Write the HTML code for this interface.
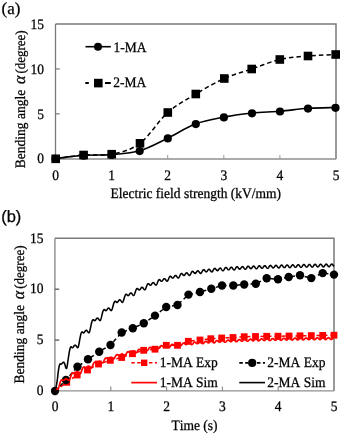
<!DOCTYPE html>
<html><head><meta charset="utf-8"><style>
html,body{margin:0;padding:0;background:#fff;}
svg{display:block;will-change:transform;}
text{font-family:"Liberation Serif",serif;fill:#000;text-rendering:geometricPrecision;stroke:#000;stroke-width:0.25px;font-kerning:none;font-variant-ligatures:none;}
</style></head><body>
<svg width="342" height="434" viewBox="0 0 342 434">
<rect width="342" height="434" fill="#fff"/>
<path d="M55.5,24 H336 V159" fill="none" stroke="#7a7a7a" stroke-width="1.5"/>
<path d="M55.5,159 H336" fill="none" stroke="#8f8f8f" stroke-width="1.4"/>
<path d="M55.5,159 V24" stroke="#7a7a7a" stroke-width="1.3"/>
<path d="M55.5,113.87 h4.2" stroke="#777" stroke-width="1.2"/>
<path d="M55.5,68.93 h4.2" stroke="#777" stroke-width="1.2"/>
<path d="M111.6,159 v-4" stroke="#999" stroke-width="1"/>
<path d="M167.7,159 v-4" stroke="#999" stroke-width="1"/>
<path d="M223.8,159 v-4" stroke="#999" stroke-width="1"/>
<path d="M279.9,159 v-4" stroke="#999" stroke-width="1"/>
<path d="M55.7,158.8 C60.35,158.17 74.27,155.77 83.6,155 C92.93,154.23 102.3,156.15 111.7,154.2 C121.1,152.25 130.65,150.25 140,143.3 C149.35,136.35 158.5,120.72 167.8,112.5 C177.1,104.28 186.38,99.67 195.8,94 C205.22,88.33 214.98,82.67 224.3,78.5 C233.62,74.33 242.45,72.17 251.7,69 C260.95,65.83 270.42,61.67 279.8,59.5 C289.18,57.33 298.68,56.83 308,56 C317.32,55.17 331.08,54.75 335.7,54.5" fill="none" stroke="#000" stroke-width="1.5" stroke-dasharray="4.5,3"/>
<path d="M55.5,158.6 C60.18,158.07 74.23,156.07 83.6,155.4 C92.97,154.73 102.35,155.37 111.7,154.6 C121.05,153.83 130.35,153.55 139.7,150.8 C149.05,148.05 158.45,142.6 167.8,138.1 C177.15,133.6 186.45,127.3 195.8,123.8 C205.15,120.3 214.53,118.9 223.9,117.1 C233.27,115.3 242.65,113.98 252,113 C261.35,112.02 270.67,111.98 280,111.2 C289.33,110.42 298.75,108.92 308,108.3 C317.25,107.68 330.92,107.63 335.5,107.5" fill="none" stroke="#000" stroke-width="1.6"/>
<circle cx="55.5" cy="158.9" r="4.1"/>
<circle cx="83.6" cy="155.7" r="4.1"/>
<circle cx="111.7" cy="154.9" r="4.1"/>
<circle cx="139.7" cy="151.1" r="4.1"/>
<circle cx="167.8" cy="138.4" r="4.1"/>
<circle cx="195.8" cy="124.1" r="4.1"/>
<circle cx="223.9" cy="117.4" r="4.1"/>
<circle cx="252" cy="113.3" r="4.1"/>
<circle cx="280" cy="111.5" r="4.1"/>
<circle cx="308" cy="108.6" r="4.1"/>
<circle cx="335.5" cy="107.8" r="4.1"/>
<rect x="51.4" y="154.5" width="8.6" height="8.6"/>
<rect x="79.3" y="150.7" width="8.6" height="8.6"/>
<rect x="107.4" y="149.9" width="8.6" height="8.6"/>
<rect x="135.7" y="139" width="8.6" height="8.6"/>
<rect x="163.5" y="108.2" width="8.6" height="8.6"/>
<rect x="191.5" y="89.7" width="8.6" height="8.6"/>
<rect x="220" y="74.2" width="8.6" height="8.6"/>
<rect x="247.4" y="64.7" width="8.6" height="8.6"/>
<rect x="275.5" y="55.2" width="8.6" height="8.6"/>
<rect x="303.7" y="51.7" width="8.6" height="8.6"/>
<rect x="331.4" y="50.2" width="8.6" height="8.6"/>
<path d="M85.5,46.7 H110.8" stroke="#000" stroke-width="1.6"/>
<circle cx="98" cy="46.7" r="4.0"/>
<path d="M85.3,83 H88.8 M105,83 H110.8" stroke="#000" stroke-width="1.9"/>
<rect x="94" y="78.8" width="8.6" height="8.6"/>
<path d="M54.9,238.2 H334 V390.9" fill="none" stroke="#7a7a7a" stroke-width="1.5"/>
<path d="M54.9,390.9 H334" fill="none" stroke="#8f8f8f" stroke-width="1.4"/>
<path d="M54.9,390.9 V238.2" stroke="#8a8a8a" stroke-width="1.4"/>
<path d="M55.0,340.1 h4.2" stroke="#555" stroke-width="1.3"/>
<path d="M55.0,289.2 h4.2" stroke="#555" stroke-width="1.3"/>
<path d="M110.8,391.0 v-4.5" stroke="#888" stroke-width="1.1"/>
<path d="M166.6,391.0 v-4.5" stroke="#888" stroke-width="1.1"/>
<path d="M222.4,391.0 v-4.5" stroke="#888" stroke-width="1.1"/>
<path d="M278.2,391.0 v-4.5" stroke="#888" stroke-width="1.1"/>
<path d="M55,391 L66.7,382.3 L77.2,375 L87.5,370 L98.5,364 L110.3,360.3 L121.7,357.5 L132.5,353.7 L143.7,350.3 L155,349.2 L166.3,345.3 L177.5,345.3 L188.3,341.3 L200,340 L210.8,338.7 L221.7,338 L233,337.5 L244.2,336.7 L255.5,336.5 L266.7,336.3 L278,336.2 L289,336 L300,335.8 L311.3,335.6 L322.7,335.4 L334,335.2" fill="none" stroke="#f00" stroke-width="1.5" stroke-dasharray="4,3"/>
<rect x="63.3" y="378.9" width="6.8" height="6.8" fill="#f00"/>
<rect x="73.8" y="371.6" width="6.8" height="6.8" fill="#f00"/>
<rect x="84.1" y="366.6" width="6.8" height="6.8" fill="#f00"/>
<rect x="95.1" y="360.6" width="6.8" height="6.8" fill="#f00"/>
<rect x="106.9" y="356.9" width="6.8" height="6.8" fill="#f00"/>
<rect x="118.3" y="354.1" width="6.8" height="6.8" fill="#f00"/>
<rect x="129.1" y="350.3" width="6.8" height="6.8" fill="#f00"/>
<rect x="140.3" y="346.9" width="6.8" height="6.8" fill="#f00"/>
<rect x="151.6" y="345.8" width="6.8" height="6.8" fill="#f00"/>
<rect x="162.9" y="341.9" width="6.8" height="6.8" fill="#f00"/>
<rect x="174.1" y="341.9" width="6.8" height="6.8" fill="#f00"/>
<rect x="184.9" y="337.9" width="6.8" height="6.8" fill="#f00"/>
<rect x="196.6" y="336.6" width="6.8" height="6.8" fill="#f00"/>
<rect x="207.4" y="335.3" width="6.8" height="6.8" fill="#f00"/>
<rect x="218.3" y="334.6" width="6.8" height="6.8" fill="#f00"/>
<rect x="229.6" y="334.1" width="6.8" height="6.8" fill="#f00"/>
<rect x="240.8" y="333.3" width="6.8" height="6.8" fill="#f00"/>
<rect x="252.1" y="333.1" width="6.8" height="6.8" fill="#f00"/>
<rect x="263.3" y="332.9" width="6.8" height="6.8" fill="#f00"/>
<rect x="274.6" y="332.8" width="6.8" height="6.8" fill="#f00"/>
<rect x="285.6" y="332.6" width="6.8" height="6.8" fill="#f00"/>
<rect x="296.6" y="332.4" width="6.8" height="6.8" fill="#f00"/>
<rect x="307.9" y="332.2" width="6.8" height="6.8" fill="#f00"/>
<rect x="319.3" y="332" width="6.8" height="6.8" fill="#f00"/>
<rect x="330.6" y="331.8" width="6.8" height="6.8" fill="#f00"/>
<path d="M55,391 L66,380 L77.5,366.7 L88,359.2 L99.2,351.7 L110.5,345 L121.7,332.5 L132.8,328.3 L143.8,323.3 L155,315.6 L166.2,307 L177.5,305 L188.5,294.6 L200,292 L211.3,288.7 L222,285.5 L233.3,285.5 L244.2,284.5 L255.8,283.7 L266.7,278.3 L278,279.2 L288.7,277 L300,275.3 L311.3,278.1 L322.7,273.1 L334,274.6" fill="none" stroke="#000" stroke-width="1.5" stroke-dasharray="4,3"/>
<circle cx="55" cy="391" r="4.2"/>
<circle cx="66" cy="380" r="4.2"/>
<circle cx="77.5" cy="366.7" r="4.2"/>
<circle cx="88" cy="359.2" r="4.2"/>
<circle cx="99.2" cy="351.7" r="4.2"/>
<circle cx="110.5" cy="345" r="4.2"/>
<circle cx="121.7" cy="332.5" r="4.2"/>
<circle cx="132.8" cy="328.3" r="4.2"/>
<circle cx="143.8" cy="323.3" r="4.2"/>
<circle cx="155" cy="315.6" r="4.2"/>
<circle cx="166.2" cy="307" r="4.2"/>
<circle cx="177.5" cy="305" r="4.2"/>
<circle cx="188.5" cy="294.6" r="4.2"/>
<circle cx="200" cy="292" r="4.2"/>
<circle cx="211.3" cy="288.7" r="4.2"/>
<circle cx="222" cy="285.5" r="4.2"/>
<circle cx="233.3" cy="285.5" r="4.2"/>
<circle cx="244.2" cy="284.5" r="4.2"/>
<circle cx="255.8" cy="283.7" r="4.2"/>
<circle cx="266.7" cy="278.3" r="4.2"/>
<circle cx="278" cy="279.2" r="4.2"/>
<circle cx="288.7" cy="277" r="4.2"/>
<circle cx="300" cy="275.3" r="4.2"/>
<circle cx="311.3" cy="278.1" r="4.2"/>
<circle cx="322.7" cy="273.1" r="4.2"/>
<circle cx="334" cy="274.6" r="4.2"/>
<path d="M55,391 L55.28,390.21 L55.56,389.57 L55.84,389.1 L56.12,388.79 L56.4,388.64 L56.67,388.64 L56.95,388.75 L57.23,388.94 L57.51,389.17 L57.79,389.41 L58.07,388.98 L58.35,388.4 L58.63,387.66 L58.91,386.81 L59.19,385.87 L59.46,384.9 L59.74,383.92 L60.02,382.99 L60.3,382.15 L60.58,381.42 L60.86,380.82 L61.14,380.37 L61.42,380.06 L61.7,379.89 L61.98,379.83 L62.25,379.87 L62.53,380.13 L62.81,380.34 L63.09,380.47 L63.37,380.52 L63.65,380.48 L63.93,380.35 L64.21,380.15 L64.49,379.89 L64.77,379.61 L65.04,379.33 L65.32,379.07 L65.6,378.87 L65.88,378.74 L66.16,378.69 L66.44,378.73 L66.72,378.86 L67,379.06 L67.28,379.31 L67.56,379.59 L67.83,379.86 L68.11,380.11 L68.39,380.31 L68.67,380.43 L68.95,380.46 L69.23,380.19 L69.51,379.75 L69.79,379.17 L70.07,378.46 L70.34,377.68 L70.62,376.86 L70.9,376.03 L71.18,375.25 L71.46,374.55 L71.74,373.95 L72.02,373.48 L72.3,373.13 L72.58,372.92 L72.86,372.83 L73.13,372.84 L73.41,372.93 L73.69,373.19 L73.97,373.4 L74.25,373.54 L74.53,373.59 L74.81,373.55 L75.09,373.43 L75.37,373.23 L75.65,372.98 L75.92,372.7 L76.2,372.41 L76.48,372.16 L76.76,371.96 L77.04,371.83 L77.32,371.78 L77.6,371.82 L77.88,371.95 L78.16,372.15 L78.44,372.4 L78.72,372.68 L78.99,372.96 L79.27,373.21 L79.55,373.41 L79.83,373.53 L80.11,373.57 L80.39,373.33 L80.67,372.94 L80.95,372.42 L81.23,371.79 L81.5,371.09 L81.78,370.36 L82.06,369.63 L82.34,368.95 L82.62,368.34 L82.9,367.83 L83.18,367.44 L83.46,367.18 L83.74,367.04 L84.02,367 L84.3,367.06 L84.57,367.18 L84.85,367.44 L85.13,367.65 L85.41,367.79 L85.69,367.84 L85.97,367.8 L86.25,367.67 L86.53,367.47 L86.81,367.22 L87.08,366.94 L87.36,366.66 L87.64,366.4 L87.92,366.2 L88.2,366.07 L88.48,366.02 L88.76,366.07 L89.04,366.19 L89.32,366.39 L89.6,366.65 L89.88,366.93 L90.15,367.21 L90.43,367.46 L90.71,367.65 L90.99,367.78 L91.27,367.82 L91.55,367.61 L91.83,367.27 L92.11,366.8 L92.39,366.23 L92.67,365.6 L92.94,364.94 L93.22,364.29 L93.5,363.69 L93.78,363.16 L94.06,362.73 L94.34,362.41 L94.62,362.22 L94.9,362.13 L95.18,362.15 L95.45,362.24 L95.73,362.39 L96.01,362.65 L96.29,362.86 L96.57,362.99 L96.85,363.04 L97.13,363 L97.41,362.87 L97.69,362.67 L97.97,362.42 L98.25,362.14 L98.52,361.86 L98.8,361.6 L99.08,361.4 L99.36,361.27 L99.64,361.22 L99.92,361.27 L100.2,361.4 L100.48,361.6 L100.76,361.85 L101.03,362.13 L101.31,362.41 L101.59,362.66 L101.87,362.86 L102.15,362.98 L102.43,363.02 L102.71,362.84 L102.99,362.54 L103.27,362.11 L103.55,361.6 L103.83,361.03 L104.1,360.43 L104.38,359.84 L104.66,359.31 L104.94,358.84 L105.22,358.48 L105.5,358.22 L105.78,358.08 L106.06,358.04 L106.34,358.1 L106.61,358.22 L106.89,358.39 L107.17,358.65 L107.45,358.86 L107.73,358.99 L108.01,359.04 L108.29,359 L108.57,358.87 L108.85,358.67 L109.13,358.42 L109.41,358.14 L109.68,357.85 L109.96,357.6 L110.24,357.4 L110.52,357.27 L110.8,357.22 L111.08,357.26 L111.36,357.39 L111.64,357.59 L111.92,357.85 L112.19,358.13 L112.47,358.41 L112.75,358.66 L113.03,358.86 L113.31,358.98 L113.59,359.02 L113.87,358.87 L114.15,358.59 L114.43,358.2 L114.71,357.73 L114.98,357.21 L115.26,356.66 L115.54,356.13 L115.82,355.65 L116.1,355.24 L116.38,354.93 L116.66,354.73 L116.94,354.63 L117.22,354.63 L117.5,354.72 L117.78,354.87 L118.05,355.06 L118.33,355.32 L118.61,355.52 L118.89,355.66 L119.17,355.71 L119.45,355.66 L119.73,355.54 L120.01,355.33 L120.29,355.08 L120.56,354.8 L120.84,354.52 L121.12,354.26 L121.4,354.06 L121.68,353.93 L121.96,353.88 L122.24,353.93 L122.52,354.06 L122.8,354.26 L123.08,354.51 L123.36,354.79 L123.63,355.07 L123.91,355.33 L124.19,355.52 L124.47,355.65 L124.75,355.69 L125.03,355.56 L125.31,355.3 L125.59,354.94 L125.87,354.51 L126.14,354.03 L126.42,353.52 L126.7,353.04 L126.98,352.6 L127.26,352.24 L127.54,351.98 L127.82,351.81 L128.1,351.75 L128.38,351.79 L128.66,351.9 L128.94,352.08 L129.21,352.28 L129.49,352.54 L129.77,352.74 L130.05,352.88 L130.33,352.92 L130.61,352.88 L130.89,352.75 L131.17,352.55 L131.45,352.3 L131.72,352.02 L132,351.73 L132.28,351.48 L132.56,351.28 L132.84,351.15 L133.12,351.1 L133.4,351.15 L133.68,351.27 L133.96,351.48 L134.24,351.73 L134.51,352.01 L134.79,352.29 L135.07,352.55 L135.35,352.75 L135.63,352.87 L135.91,352.91 L136.19,352.79 L136.47,352.56 L136.75,352.23 L137.03,351.82 L137.31,351.37 L137.58,350.91 L137.86,350.46 L138.14,350.06 L138.42,349.74 L138.7,349.51 L138.98,349.38 L139.26,349.35 L139.54,349.42 L139.82,349.55 L140.09,349.75 L140.37,349.96 L140.65,350.22 L140.93,350.43 L141.21,350.56 L141.49,350.61 L141.77,350.56 L142.05,350.44 L142.33,350.23 L142.61,349.98 L142.88,349.7 L143.16,349.41 L143.44,349.16 L143.72,348.96 L144,348.83 L144.28,348.78 L144.56,348.83 L144.84,348.96 L145.12,349.16 L145.4,349.41 L145.68,349.69 L145.95,349.97 L146.23,350.23 L146.51,350.43 L146.79,350.56 L147.07,350.6 L147.35,350.49 L147.63,350.27 L147.91,349.96 L148.19,349.58 L148.47,349.16 L148.74,348.72 L149.02,348.31 L149.3,347.95 L149.58,347.66 L149.86,347.46 L150.14,347.35 L150.42,347.35 L150.7,347.44 L150.98,347.6 L151.25,347.8 L151.53,348.03 L151.81,348.29 L152.09,348.49 L152.37,348.63 L152.65,348.67 L152.93,348.63 L153.21,348.5 L153.49,348.3 L153.77,348.05 L154.04,347.76 L154.32,347.48 L154.6,347.23 L154.88,347.02 L155.16,346.89 L155.44,346.85 L155.72,346.89 L156,347.02 L156.28,347.22 L156.56,347.48 L156.84,347.76 L157.11,348.04 L157.39,348.29 L157.67,348.5 L157.95,348.62 L158.23,348.67 L158.51,348.57 L158.79,348.37 L159.07,348.07 L159.35,347.71 L159.62,347.31 L159.9,346.91 L160.18,346.52 L160.46,346.18 L160.74,345.92 L161.02,345.74 L161.3,345.67 L161.58,345.68 L161.86,345.79 L162.14,345.97 L162.42,346.18 L162.69,346.42 L162.97,346.68 L163.25,346.88 L163.53,347.02 L163.81,347.06 L164.09,347.02 L164.37,346.89 L164.65,346.69 L164.93,346.43 L165.2,346.15 L165.48,345.87 L165.76,345.61 L166.04,345.41 L166.32,345.28 L166.6,345.23 L166.88,345.28 L167.16,345.41 L167.44,345.61 L167.72,345.87 L168,346.15 L168.27,346.43 L168.55,346.68 L168.83,346.88 L169.11,347.01 L169.39,347.06 L169.67,346.97 L169.95,346.78 L170.23,346.5 L170.51,346.16 L170.79,345.78 L171.06,345.39 L171.34,345.02 L171.62,344.71 L171.9,344.47 L172.18,344.31 L172.46,344.26 L172.74,344.29 L173.02,344.42 L173.3,344.6 L173.57,344.83 L173.85,345.08 L174.13,345.34 L174.41,345.54 L174.69,345.67 L174.97,345.72 L175.25,345.67 L175.53,345.55 L175.81,345.34 L176.09,345.09 L176.36,344.81 L176.64,344.52 L176.92,344.27 L177.2,344.07 L177.48,343.94 L177.76,343.89 L178.04,343.93 L178.32,344.06 L178.6,344.27 L178.88,344.52 L179.16,344.8 L179.43,345.09 L179.71,345.34 L179.99,345.54 L180.27,345.67 L180.55,345.71 L180.83,345.63 L181.11,345.45 L181.39,345.19 L181.67,344.86 L181.94,344.49 L182.22,344.12 L182.5,343.78 L182.78,343.48 L183.06,343.26 L183.34,343.12 L183.62,343.08 L183.9,343.14 L184.18,343.27 L184.46,343.47 L184.74,343.71 L185.01,343.96 L185.29,344.22 L185.57,344.42 L185.85,344.55 L186.13,344.6 L186.41,344.55 L186.69,344.43 L186.97,344.22 L187.25,343.97 L187.53,343.69 L187.8,343.4 L188.08,343.15 L188.36,342.94 L188.64,342.81 L188.92,342.77 L189.2,342.81 L189.48,342.94 L189.76,343.15 L190.04,343.4 L190.31,343.68 L190.59,343.97 L190.87,344.22 L191.15,344.42 L191.43,344.55 L191.71,344.59 L191.99,344.52 L192.27,344.35 L192.55,344.09 L192.83,343.78 L193.1,343.43 L193.38,343.07 L193.66,342.74 L193.94,342.46 L194.22,342.25 L194.5,342.13 L194.78,342.1 L195.06,342.17 L195.34,342.32 L195.62,342.52 L195.9,342.77 L196.17,343.03 L196.45,343.28 L196.73,343.49 L197.01,343.62 L197.29,343.66 L197.57,343.62 L197.85,343.49 L198.13,343.29 L198.41,343.03 L198.69,342.75 L198.96,342.47 L199.24,342.21 L199.52,342.01 L199.8,341.88 L200.08,341.83 L200.36,341.88 L200.64,342.01 L200.92,342.21 L201.2,342.47 L201.47,342.75 L201.75,343.03 L202.03,343.29 L202.31,343.49 L202.59,343.62 L202.87,343.66 L203.15,343.59 L203.43,343.43 L203.71,343.18 L203.99,342.87 L204.26,342.53 L204.54,342.19 L204.82,341.87 L205.1,341.6 L205.38,341.41 L205.66,341.3 L205.94,341.29 L206.22,341.36 L206.5,341.52 L206.78,341.74 L207.06,341.99 L207.33,342.25 L207.61,342.51 L207.89,342.71 L208.17,342.84 L208.45,342.89 L208.73,342.84 L209.01,342.71 L209.29,342.51 L209.57,342.25 L209.84,341.97 L210.12,341.69 L210.4,341.43 L210.68,341.23 L210.96,341.1 L211.24,341.06 L211.52,341.1 L211.8,341.23 L212.08,341.43 L212.36,341.69 L212.64,341.97 L212.91,342.25 L213.19,342.51 L213.47,342.71 L213.75,342.84 L214.03,342.88 L214.31,342.82 L214.59,342.66 L214.87,342.42 L215.15,342.12 L215.43,341.79 L215.7,341.46 L215.98,341.15 L216.26,340.89 L216.54,340.71 L216.82,340.61 L217.1,340.61 L217.38,340.69 L217.66,340.86 L217.94,341.08 L218.21,341.34 L218.49,341.6 L218.77,341.86 L219.05,342.06 L219.33,342.19 L219.61,342.24 L219.89,342.19 L220.17,342.06 L220.45,341.86 L220.73,341.6 L221,341.32 L221.28,341.04 L221.56,340.78 L221.84,340.58 L222.12,340.45 L222.4,340.41 L222.68,340.45 L222.96,340.58 L223.24,340.78 L223.52,341.04 L223.8,341.32 L224.07,341.6 L224.35,341.86 L224.63,342.06 L224.91,342.19 L225.19,342.23 L225.47,342.17 L225.75,342.02 L226.03,341.78 L226.31,341.49 L226.59,341.17 L226.86,340.85 L227.14,340.55 L227.42,340.3 L227.7,340.12 L227.98,340.03 L228.26,340.04 L228.54,340.13 L228.82,340.3 L229.1,340.53 L229.38,340.79 L229.65,341.06 L229.93,341.32 L230.21,341.52 L230.49,341.65 L230.77,341.7 L231.05,341.65 L231.33,341.52 L231.61,341.32 L231.89,341.06 L232.16,340.78 L232.44,340.5 L232.72,340.24 L233,340.04 L233.28,339.91 L233.56,339.86 L233.84,339.91 L234.12,340.04 L234.4,340.24 L234.68,340.5 L234.95,340.78 L235.23,341.06 L235.51,341.32 L235.79,341.52 L236.07,341.65 L236.35,341.69 L236.63,341.63 L236.91,341.48 L237.19,341.26 L237.47,340.97 L237.75,340.65 L238.02,340.34 L238.3,340.04 L238.58,339.8 L238.86,339.64 L239.14,339.55 L239.42,339.57 L239.7,339.66 L239.98,339.84 L240.26,340.07 L240.54,340.34 L240.81,340.61 L241.09,340.86 L241.37,341.07 L241.65,341.2 L241.93,341.24 L242.21,341.2 L242.49,341.07 L242.77,340.87 L243.05,340.61 L243.32,340.33 L243.6,340.05 L243.88,339.79 L244.16,339.59 L244.44,339.46 L244.72,339.41 L245,339.46 L245.28,339.59 L245.56,339.79 L245.84,340.05 L246.11,340.33 L246.39,340.61 L246.67,340.87 L246.95,341.07 L247.23,341.2 L247.51,341.24 L247.79,341.18 L248.07,341.04 L248.35,340.81 L248.63,340.53 L248.91,340.22 L249.18,339.91 L249.46,339.63 L249.74,339.39 L250.02,339.23 L250.3,339.15 L250.58,339.17 L250.86,339.28 L251.14,339.46 L251.42,339.69 L251.69,339.96 L251.97,340.23 L252.25,340.49 L252.53,340.69 L252.81,340.82 L253.09,340.87 L253.37,340.82 L253.65,340.69 L253.93,340.49 L254.21,340.24 L254.49,339.95 L254.76,339.67 L255.04,339.41 L255.32,339.21 L255.6,339.08 L255.88,339.04 L256.16,339.08 L256.44,339.21 L256.72,339.41 L257,339.67 L257.27,339.95 L257.55,340.23 L257.83,340.49 L258.11,340.69 L258.39,340.82 L258.67,340.87 L258.95,340.81 L259.23,340.67 L259.51,340.45 L259.79,340.17 L260.06,339.87 L260.34,339.56 L260.62,339.28 L260.9,339.05 L261.18,338.89 L261.46,338.82 L261.74,338.84 L262.02,338.95 L262.3,339.13 L262.58,339.37 L262.86,339.65 L263.13,339.92 L263.41,340.18 L263.69,340.38 L263.97,340.51 L264.25,340.55 L264.53,340.51 L264.81,340.38 L265.09,340.18 L265.37,339.92 L265.64,339.64 L265.92,339.36 L266.2,339.1 L266.48,338.9 L266.76,338.77 L267.04,338.72 L267.32,338.77 L267.6,338.9 L267.88,339.1 L268.16,339.35 L268.44,339.64 L268.71,339.92 L268.99,340.18 L269.27,340.38 L269.55,340.51 L269.83,340.55 L270.11,340.5 L270.39,340.36 L270.67,340.14 L270.95,339.87 L271.23,339.57 L271.5,339.26 L271.78,338.99 L272.06,338.76 L272.34,338.61 L272.62,338.54 L272.9,338.57 L273.18,338.68 L273.46,338.87 L273.74,339.11 L274.01,339.38 L274.29,339.66 L274.57,339.91 L274.85,340.12 L275.13,340.25 L275.41,340.29 L275.69,340.25 L275.97,340.12 L276.25,339.91 L276.53,339.66 L276.81,339.38 L277.08,339.09 L277.36,338.84 L277.64,338.64 L277.92,338.51 L278.2,338.46 L278.48,338.51 L278.76,338.64 L279.04,338.84 L279.32,339.09 L279.6,339.38 L279.87,339.66 L280.15,339.91 L280.43,340.12 L280.71,340.25 L280.99,340.29 L281.27,340.24 L281.55,340.1 L281.83,339.88 L282.11,339.61 L282.38,339.32 L282.66,339.02 L282.94,338.74 L283.22,338.52 L283.5,338.37 L283.78,338.31 L284.06,338.34 L284.34,338.45 L284.62,338.64 L284.9,338.89 L285.18,339.16 L285.45,339.44 L285.73,339.7 L286.01,339.9 L286.29,340.03 L286.57,340.07 L286.85,340.03 L287.13,339.9 L287.41,339.7 L287.69,339.44 L287.97,339.16 L288.24,338.88 L288.52,338.62 L288.8,338.42 L289.08,338.29 L289.36,338.24 L289.64,338.29 L289.92,338.42 L290.2,338.62 L290.48,338.87 L290.75,339.16 L291.03,339.44 L291.31,339.7 L291.59,339.9 L291.87,340.03 L292.15,340.07 L292.43,340.02 L292.71,339.88 L292.99,339.67 L293.27,339.4 L293.55,339.11 L293.82,338.81 L294.1,338.54 L294.38,338.32 L294.66,338.18 L294.94,338.12 L295.22,338.15 L295.5,338.27 L295.78,338.46 L296.06,338.7 L296.33,338.98 L296.61,339.26 L296.89,339.51 L297.17,339.72 L297.45,339.85 L297.73,339.89 L298.01,339.85 L298.29,339.72 L298.57,339.51 L298.85,339.26 L299.12,338.98 L299.4,338.69 L299.68,338.44 L299.96,338.24 L300.24,338.11 L300.52,338.06 L300.8,338.11 L301.08,338.24 L301.36,338.44 L301.64,338.69 L301.92,338.98 L302.19,339.26 L302.47,339.51 L302.75,339.72 L303.03,339.85 L303.31,339.89 L303.59,339.84 L303.87,339.7 L304.15,339.49 L304.43,339.23 L304.7,338.93 L304.98,338.64 L305.26,338.37 L305.54,338.16 L305.82,338.01 L306.1,337.96 L306.38,337.99 L306.66,338.11 L306.94,338.3 L307.22,338.55 L307.5,338.83 L307.77,339.11 L308.05,339.36 L308.33,339.57 L308.61,339.7 L308.89,339.74 L309.17,339.7 L309.45,339.57 L309.73,339.36 L310.01,339.11 L310.28,338.82 L310.56,338.54 L310.84,338.29 L311.12,338.08 L311.4,337.95 L311.68,337.91 L311.96,337.95 L312.24,338.08 L312.52,338.29 L312.8,338.54 L313.07,338.82 L313.35,339.11 L313.63,339.36 L313.91,339.57 L314.19,339.7 L314.47,339.74 L314.75,339.69 L315.03,339.56 L315.31,339.35 L315.59,339.08 L315.87,338.79 L316.14,338.5 L316.42,338.23 L316.7,338.02 L316.98,337.88 L317.26,337.82 L317.54,337.86 L317.82,337.98 L318.1,338.17 L318.38,338.42 L318.65,338.7 L318.93,338.98 L319.21,339.24 L319.49,339.44 L319.77,339.57 L320.05,339.61 L320.33,339.57 L320.61,339.44 L320.89,339.24 L321.17,338.98 L321.45,338.7 L321.72,338.42 L322,338.16 L322.28,337.96 L322.56,337.83 L322.84,337.78 L323.12,337.83 L323.4,337.96 L323.68,338.16 L323.96,338.42 L324.24,338.7 L324.51,338.98 L324.79,339.24 L325.07,339.44 L325.35,339.57 L325.63,339.61 L325.91,339.57 L326.19,339.43 L326.47,339.22 L326.75,338.96 L327.02,338.67 L327.3,338.38 L327.58,338.11 L327.86,337.9 L328.14,337.76 L328.42,337.71 L328.7,337.75 L328.98,337.87 L329.26,338.07 L329.54,338.32 L329.81,338.6 L330.09,338.88 L330.37,339.13 L330.65,339.33 L330.93,339.46 L331.21,339.51 L331.49,339.46 L331.77,339.33 L332.05,339.13 L332.33,338.88 L332.6,338.59 L332.88,338.31 L333.16,338.05 L333.44,337.85 L333.72,337.72 L334,337.68" fill="none" stroke="#f00" stroke-width="1.7" stroke-linejoin="round"/>
<path d="M55,390.99 L55.28,389.61 L55.56,388.58 L55.84,387.64 L56.12,386.66 L56.4,385.53 L56.67,384.16 L56.95,382.49 L57.23,380.51 L57.51,378.23 L57.79,375.71 L58.07,373.3 L58.35,371.1 L58.63,369.17 L58.91,367.52 L59.19,366.19 L59.46,365.15 L59.74,364.41 L60.02,363.93 L60.3,364.09 L60.58,364.19 L60.86,364.22 L61.14,364.17 L61.42,364.02 L61.7,363.8 L61.98,363.51 L62.25,363.19 L62.53,362.86 L62.81,362.57 L63.09,362.34 L63.37,362.22 L63.65,362.22 L63.93,362.38 L64.21,362.73 L64.49,363.29 L64.77,364.07 L65.04,365.05 L65.32,366.12 L65.6,367.17 L65.88,368 L66.16,368.48 L66.44,368.53 L66.72,368.18 L67,366.97 L67.28,365.4 L67.56,363.62 L67.83,361.72 L68.11,359.76 L68.39,357.8 L68.67,355.88 L68.95,354.04 L69.23,352.34 L69.51,350.81 L69.79,349.52 L70.07,348.47 L70.34,347.68 L70.62,347.14 L70.9,346.83 L71.18,346.73 L71.46,347.13 L71.74,347.44 L72.02,347.65 L72.3,347.73 L72.58,347.68 L72.86,347.51 L73.13,347.23 L73.41,346.87 L73.69,346.47 L73.97,346.06 L74.25,345.69 L74.53,345.4 L74.81,345.21 L75.09,345.15 L75.37,345.2 L75.65,345.39 L75.92,345.67 L76.2,346.03 L76.48,346.42 L76.76,346.82 L77.04,347.17 L77.32,347.44 L77.6,347.61 L77.88,347.65 L78.16,347.09 L78.44,346.23 L78.72,345.12 L78.99,343.79 L79.27,342.3 L79.55,340.73 L79.83,339.14 L80.11,337.6 L80.39,336.18 L80.67,334.92 L80.95,333.87 L81.23,333.05 L81.5,332.45 L81.78,332.08 L82.06,331.9 L82.34,331.89 L82.62,332.28 L82.9,332.59 L83.18,332.8 L83.46,332.88 L83.74,332.82 L84.02,332.65 L84.3,332.36 L84.57,332 L84.85,331.6 L85.13,331.19 L85.41,330.83 L85.69,330.53 L85.97,330.34 L86.25,330.28 L86.53,330.34 L86.81,330.52 L87.08,330.8 L87.36,331.16 L87.64,331.56 L87.92,331.95 L88.2,332.31 L88.48,332.59 L88.76,332.76 L89.04,332.8 L89.32,332.33 L89.6,331.6 L89.88,330.63 L90.15,329.47 L90.43,328.18 L90.71,326.82 L90.99,325.45 L91.27,324.13 L91.55,322.94 L91.83,321.9 L92.11,321.05 L92.39,320.41 L92.67,319.97 L92.94,319.73 L93.22,319.66 L93.5,319.73 L93.78,320.11 L94.06,320.42 L94.34,320.62 L94.62,320.7 L94.9,320.64 L95.18,320.46 L95.45,320.17 L95.73,319.81 L96.01,319.41 L96.29,319 L96.57,318.63 L96.85,318.34 L97.13,318.15 L97.41,318.08 L97.69,318.14 L97.97,318.32 L98.25,318.61 L98.52,318.97 L98.8,319.37 L99.08,319.76 L99.36,320.12 L99.64,320.4 L99.92,320.57 L100.2,320.62 L100.48,320.22 L100.76,319.59 L101.03,318.74 L101.31,317.72 L101.59,316.59 L101.87,315.4 L102.15,314.21 L102.43,313.08 L102.71,312.07 L102.99,311.2 L103.27,310.52 L103.55,310.03 L103.83,309.72 L104.1,309.59 L104.38,309.61 L104.66,309.74 L104.94,310.12 L105.22,310.42 L105.5,310.62 L105.78,310.69 L106.06,310.63 L106.34,310.45 L106.61,310.16 L106.89,309.8 L107.17,309.39 L107.45,308.98 L107.73,308.61 L108.01,308.32 L108.29,308.13 L108.57,308.06 L108.85,308.12 L109.13,308.3 L109.41,308.58 L109.68,308.94 L109.96,309.34 L110.24,309.74 L110.52,310.1 L110.8,310.38 L111.08,310.55 L111.36,310.61 L111.64,310.27 L111.92,309.71 L112.19,308.96 L112.47,308.06 L112.75,307.06 L113.03,306.01 L113.31,304.97 L113.59,303.99 L113.87,303.12 L114.15,302.4 L114.43,301.85 L114.71,301.48 L114.98,301.28 L115.26,301.24 L115.54,301.33 L115.82,301.51 L116.1,301.88 L116.38,302.18 L116.66,302.38 L116.94,302.45 L117.22,302.39 L117.5,302.2 L117.78,301.91 L118.05,301.54 L118.33,301.13 L118.61,300.72 L118.89,300.35 L119.17,300.06 L119.45,299.87 L119.73,299.8 L120.01,299.86 L120.29,300.04 L120.56,300.32 L120.84,300.68 L121.12,301.08 L121.4,301.48 L121.68,301.84 L121.96,302.12 L122.24,302.29 L122.52,302.35 L122.8,302.05 L123.08,301.56 L123.36,300.9 L123.63,300.09 L123.91,299.19 L124.19,298.26 L124.47,297.34 L124.75,296.48 L125.03,295.74 L125.31,295.13 L125.59,294.69 L125.87,294.42 L126.14,294.31 L126.42,294.34 L126.7,294.49 L126.98,294.7 L127.26,295.08 L127.54,295.37 L127.82,295.56 L128.1,295.63 L128.38,295.57 L128.66,295.38 L128.94,295.09 L129.21,294.72 L129.49,294.31 L129.77,293.89 L130.05,293.52 L130.33,293.22 L130.61,293.03 L130.89,292.96 L131.17,293.02 L131.45,293.2 L131.72,293.48 L132,293.84 L132.28,294.24 L132.56,294.64 L132.84,295 L133.12,295.28 L133.4,295.46 L133.68,295.51 L133.96,295.26 L134.24,294.82 L134.51,294.22 L134.79,293.49 L135.07,292.68 L135.35,291.84 L135.63,291.01 L135.91,290.26 L136.19,289.61 L136.47,289.1 L136.75,288.75 L137.03,288.56 L137.31,288.52 L137.58,288.61 L137.86,288.8 L138.14,289.05 L138.42,289.42 L138.7,289.72 L138.98,289.9 L139.26,289.97 L139.54,289.9 L139.82,289.71 L140.09,289.42 L140.37,289.05 L140.65,288.63 L140.93,288.22 L141.21,287.85 L141.49,287.55 L141.77,287.36 L142.05,287.28 L142.33,287.34 L142.61,287.52 L142.88,287.8 L143.16,288.16 L143.44,288.56 L143.72,288.96 L144,289.32 L144.28,289.6 L144.56,289.78 L144.84,289.83 L145.12,289.61 L145.4,289.21 L145.68,288.67 L145.95,288 L146.23,287.26 L146.51,286.5 L146.79,285.75 L147.07,285.08 L147.35,284.51 L147.63,284.08 L147.91,283.81 L148.19,283.68 L148.47,283.7 L148.74,283.84 L149.02,284.07 L149.3,284.35 L149.58,284.71 L149.86,285.01 L150.14,285.19 L150.42,285.26 L150.7,285.19 L150.98,285 L151.25,284.7 L151.53,284.33 L151.81,283.91 L152.09,283.5 L152.37,283.12 L152.65,282.83 L152.93,282.63 L153.21,282.56 L153.49,282.62 L153.77,282.8 L154.04,283.08 L154.32,283.44 L154.6,283.84 L154.88,284.24 L155.16,284.6 L155.44,284.88 L155.72,285.05 L156,285.11 L156.28,284.91 L156.56,284.55 L156.84,284.05 L157.11,283.44 L157.39,282.76 L157.67,282.06 L157.95,281.38 L158.23,280.77 L158.51,280.27 L158.79,279.91 L159.07,279.69 L159.35,279.62 L159.62,279.69 L159.9,279.87 L160.18,280.13 L160.46,280.43 L160.74,280.8 L161.02,281.09 L161.3,281.27 L161.58,281.34 L161.86,281.27 L162.14,281.08 L162.42,280.78 L162.69,280.41 L162.97,279.99 L163.25,279.58 L163.53,279.2 L163.81,278.91 L164.09,278.71 L164.37,278.64 L164.65,278.7 L164.93,278.88 L165.2,279.16 L165.48,279.52 L165.76,279.92 L166.04,280.32 L166.32,280.68 L166.6,280.97 L166.88,281.14 L167.16,281.2 L167.44,281.03 L167.72,280.7 L168,280.23 L168.27,279.67 L168.55,279.03 L168.83,278.38 L169.11,277.76 L169.39,277.21 L169.67,276.77 L169.95,276.46 L170.23,276.29 L170.51,276.27 L170.79,276.38 L171.06,276.59 L171.34,276.88 L171.62,277.2 L171.9,277.57 L172.18,277.86 L172.46,278.04 L172.74,278.11 L173.02,278.04 L173.3,277.85 L173.57,277.55 L173.85,277.18 L174.13,276.77 L174.41,276.36 L174.69,275.98 L174.97,275.68 L175.25,275.49 L175.53,275.42 L175.81,275.48 L176.09,275.66 L176.36,275.95 L176.64,276.31 L176.92,276.72 L177.2,277.12 L177.48,277.48 L177.76,277.77 L178.04,277.95 L178.32,278 L178.6,277.85 L178.88,277.55 L179.16,277.12 L179.43,276.58 L179.71,275.99 L179.99,275.39 L180.27,274.81 L180.55,274.31 L180.83,273.92 L181.11,273.65 L181.39,273.53 L181.67,273.55 L181.94,273.69 L182.22,273.93 L182.5,274.24 L182.78,274.58 L183.06,274.95 L183.34,275.24 L183.62,275.43 L183.9,275.49 L184.18,275.43 L184.46,275.24 L184.74,274.95 L185.01,274.57 L185.29,274.16 L185.57,273.75 L185.85,273.38 L186.13,273.09 L186.41,272.9 L186.69,272.83 L186.97,272.89 L187.25,273.08 L187.53,273.37 L187.8,273.73 L188.08,274.14 L188.36,274.54 L188.64,274.91 L188.92,275.2 L189.2,275.38 L189.48,275.44 L189.76,275.31 L190.04,275.03 L190.31,274.62 L190.59,274.12 L190.87,273.57 L191.15,273 L191.43,272.46 L191.71,272 L191.99,271.65 L192.27,271.42 L192.55,271.33 L192.83,271.38 L193.1,271.56 L193.38,271.83 L193.66,272.15 L193.94,272.51 L194.22,272.88 L194.5,273.17 L194.78,273.36 L195.06,273.43 L195.34,273.37 L195.62,273.18 L195.9,272.89 L196.17,272.52 L196.45,272.12 L196.73,271.71 L197.01,271.34 L197.29,271.05 L197.57,270.86 L197.85,270.8 L198.13,270.86 L198.41,271.05 L198.69,271.34 L198.96,271.71 L199.24,272.12 L199.52,272.53 L199.8,272.9 L200.08,273.19 L200.36,273.38 L200.64,273.44 L200.92,273.32 L201.2,273.06 L201.47,272.68 L201.75,272.21 L202.03,271.68 L202.31,271.14 L202.59,270.64 L202.87,270.21 L203.15,269.89 L203.43,269.7 L203.71,269.64 L203.99,269.72 L204.26,269.92 L204.54,270.21 L204.82,270.55 L205.1,270.92 L205.38,271.29 L205.66,271.59 L205.94,271.78 L206.22,271.85 L206.5,271.79 L206.78,271.61 L207.06,271.32 L207.33,270.96 L207.61,270.55 L207.89,270.15 L208.17,269.78 L208.45,269.49 L208.73,269.31 L209.01,269.25 L209.29,269.31 L209.57,269.5 L209.84,269.8 L210.12,270.17 L210.4,270.58 L210.68,271 L210.96,271.37 L211.24,271.66 L211.52,271.85 L211.8,271.92 L212.08,271.81 L212.36,271.57 L212.64,271.21 L212.91,270.76 L213.19,270.25 L213.47,269.74 L213.75,269.27 L214.03,268.87 L214.31,268.57 L214.59,268.4 L214.87,268.37 L215.15,268.47 L215.43,268.69 L215.7,269 L215.98,269.36 L216.26,269.74 L216.54,270.11 L216.82,270.41 L217.1,270.61 L217.38,270.68 L217.66,270.62 L217.94,270.44 L218.21,270.15 L218.49,269.79 L218.77,269.38 L219.05,268.98 L219.33,268.62 L219.61,268.33 L219.89,268.15 L220.17,268.09 L220.45,268.16 L220.73,268.35 L221,268.65 L221.28,269.02 L221.56,269.44 L221.84,269.85 L222.12,270.23 L222.4,270.52 L222.68,270.72 L222.96,270.78 L223.24,270.69 L223.52,270.46 L223.8,270.11 L224.07,269.68 L224.35,269.19 L224.63,268.7 L224.91,268.25 L225.19,267.87 L225.47,267.6 L225.75,267.45 L226.03,267.44 L226.31,267.56 L226.59,267.79 L226.86,268.11 L227.14,268.48 L227.42,268.87 L227.7,269.24 L227.98,269.55 L228.26,269.74 L228.54,269.81 L228.82,269.76 L229.1,269.57 L229.38,269.29 L229.65,268.93 L229.93,268.53 L230.21,268.12 L230.49,267.76 L230.77,267.47 L231.05,267.29 L231.33,267.23 L231.61,267.31 L231.89,267.5 L232.16,267.8 L232.44,268.17 L232.72,268.59 L233,269 L233.28,269.38 L233.56,269.68 L233.84,269.87 L234.12,269.94 L234.4,269.85 L234.68,269.63 L234.95,269.29 L235.23,268.87 L235.51,268.4 L235.79,267.93 L236.07,267.49 L236.35,267.13 L236.63,266.87 L236.91,266.74 L237.19,266.75 L237.47,266.88 L237.75,267.13 L238.02,267.46 L238.3,267.84 L238.58,268.23 L238.86,268.6 L239.14,268.9 L239.42,269.1 L239.7,269.17 L239.98,269.11 L240.26,268.93 L240.54,268.65 L240.81,268.28 L241.09,267.88 L241.37,267.48 L241.65,267.12 L241.93,266.83 L242.21,266.65 L242.49,266.59 L242.77,266.66 L243.05,266.86 L243.32,267.15 L243.6,267.53 L243.88,267.94 L244.16,268.36 L244.44,268.73 L244.72,269.03 L245,269.22 L245.28,269.29 L245.56,269.21 L245.84,268.99 L246.11,268.67 L246.39,268.26 L246.67,267.8 L246.95,267.34 L247.23,266.91 L247.51,266.57 L247.79,266.32 L248.07,266.2 L248.35,266.22 L248.63,266.36 L248.91,266.62 L249.18,266.95 L249.46,267.34 L249.74,267.73 L250.02,268.11 L250.3,268.41 L250.58,268.6 L250.86,268.67 L251.14,268.62 L251.42,268.43 L251.69,268.15 L251.97,267.78 L252.25,267.38 L252.53,266.98 L252.81,266.61 L253.09,266.33 L253.37,266.14 L253.65,266.08 L253.93,266.15 L254.21,266.35 L254.49,266.64 L254.76,267.02 L255.04,267.43 L255.32,267.84 L255.6,268.22 L255.88,268.52 L256.16,268.71 L256.44,268.78 L256.72,268.7 L257,268.49 L257.27,268.16 L257.55,267.76 L257.83,267.31 L258.11,266.86 L258.39,266.45 L258.67,266.11 L258.95,265.87 L259.23,265.77 L259.51,265.79 L259.79,265.94 L260.06,266.2 L260.34,266.55 L260.62,266.94 L260.9,267.33 L261.18,267.71 L261.46,268 L261.74,268.2 L262.02,268.27 L262.3,268.21 L262.58,268.02 L262.86,267.73 L263.13,267.37 L263.41,266.97 L263.69,266.56 L263.97,266.2 L264.25,265.91 L264.53,265.72 L264.81,265.66 L265.09,265.73 L265.37,265.92 L265.64,266.22 L265.92,266.59 L266.2,267 L266.48,267.42 L266.76,267.79 L267.04,268.08 L267.32,268.27 L267.6,268.34 L267.88,268.26 L268.16,268.06 L268.44,267.74 L268.71,267.34 L268.99,266.9 L269.27,266.46 L269.55,266.05 L269.83,265.72 L270.11,265.5 L270.39,265.39 L270.67,265.42 L270.95,265.58 L271.23,265.85 L271.5,266.2 L271.78,266.59 L272.06,266.99 L272.34,267.36 L272.62,267.66 L272.9,267.85 L273.18,267.92 L273.46,267.85 L273.74,267.67 L274.01,267.38 L274.29,267.01 L274.57,266.61 L274.85,266.2 L275.13,265.84 L275.41,265.55 L275.69,265.36 L275.97,265.3 L276.25,265.37 L276.53,265.56 L276.81,265.85 L277.08,266.22 L277.36,266.63 L277.64,267.04 L277.92,267.42 L278.2,267.71 L278.48,267.9 L278.76,267.97 L279.04,267.89 L279.32,267.69 L279.6,267.37 L279.87,266.98 L280.15,266.54 L280.43,266.11 L280.71,265.71 L280.99,265.38 L281.27,265.16 L281.55,265.07 L281.83,265.1 L282.11,265.27 L282.38,265.54 L282.66,265.89 L282.94,266.28 L283.22,266.68 L283.5,267.05 L283.78,267.35 L284.06,267.54 L284.34,267.6 L284.62,267.54 L284.9,267.36 L285.18,267.07 L285.45,266.7 L285.73,266.29 L286.01,265.88 L286.29,265.52 L286.57,265.23 L286.85,265.04 L287.13,264.98 L287.41,265.04 L287.69,265.23 L287.97,265.53 L288.24,265.9 L288.52,266.31 L288.8,266.72 L289.08,267.09 L289.36,267.38 L289.64,267.57 L289.92,267.64 L290.2,267.56 L290.48,267.36 L290.75,267.05 L291.03,266.66 L291.31,266.23 L291.59,265.79 L291.87,265.4 L292.15,265.08 L292.43,264.87 L292.71,264.78 L292.99,264.82 L293.27,264.98 L293.55,265.26 L293.82,265.61 L294.1,266.01 L294.38,266.41 L294.66,266.78 L294.94,267.07 L295.22,267.26 L295.5,267.33 L295.78,267.27 L296.06,267.08 L296.33,266.79 L296.61,266.42 L296.89,266.01 L297.17,265.6 L297.45,265.24 L297.73,264.94 L298.01,264.76 L298.29,264.69 L298.57,264.76 L298.85,264.95 L299.12,265.24 L299.4,265.61 L299.68,266.02 L299.96,266.43 L300.24,266.8 L300.52,267.09 L300.8,267.28 L301.08,267.35 L301.36,267.27 L301.64,267.07 L301.92,266.77 L302.19,266.38 L302.47,265.95 L302.75,265.52 L303.03,265.13 L303.31,264.82 L303.59,264.61 L303.87,264.52 L304.15,264.57 L304.43,264.74 L304.7,265.01 L304.98,265.37 L305.26,265.77 L305.54,266.17 L305.82,266.54 L306.1,266.83 L306.38,267.02 L306.66,267.09 L306.94,267.02 L307.22,266.84 L307.5,266.55 L307.77,266.18 L308.05,265.77 L308.33,265.36 L308.61,264.99 L308.89,264.7 L309.17,264.51 L309.45,264.45 L309.73,264.51 L310.01,264.7 L310.28,264.99 L310.56,265.36 L310.84,265.77 L311.12,266.18 L311.4,266.55 L311.68,266.84 L311.96,267.03 L312.24,267.1 L312.52,267.02 L312.8,266.83 L313.07,266.52 L313.35,266.14 L313.63,265.71 L313.91,265.29 L314.19,264.9 L314.47,264.59 L314.75,264.38 L315.03,264.3 L315.31,264.35 L315.59,264.52 L315.87,264.8 L316.14,265.16 L316.42,265.56 L316.7,265.96 L316.98,266.33 L317.26,266.63 L317.54,266.82 L317.82,266.88 L318.1,266.82 L318.38,266.63 L318.65,266.34 L318.93,265.97 L319.21,265.56 L319.49,265.15 L319.77,264.78 L320.05,264.49 L320.33,264.3 L320.61,264.24 L320.89,264.3 L321.17,264.49 L321.45,264.78 L321.72,265.15 L322,265.56 L322.28,265.97 L322.56,266.34 L322.84,266.63 L323.12,266.82 L323.4,266.88 L323.68,266.81 L323.96,266.62 L324.24,266.32 L324.51,265.93 L324.79,265.51 L325.07,265.09 L325.35,264.71 L325.63,264.4 L325.91,264.19 L326.19,264.12 L326.47,264.17 L326.75,264.34 L327.02,264.62 L327.3,264.98 L327.58,265.39 L327.86,265.79 L328.14,266.16 L328.42,266.45 L328.7,266.64 L328.98,266.71 L329.26,266.64 L329.54,266.45 L329.81,266.16 L330.09,265.79 L330.37,265.38 L330.65,264.97 L330.93,264.61 L331.21,264.31 L331.49,264.13 L331.77,264.06 L332.05,264.13 L332.33,264.31 L332.6,264.61 L332.88,264.98 L333.16,265.38 L333.44,265.79 L333.72,266.16 L334,266.45" fill="none" stroke="#000" stroke-width="1.55" stroke-linejoin="round"/>
<path d="M131.3,362.8 H157" stroke="#f00" stroke-width="1.6" stroke-dasharray="3.5,2.4"/>
<rect x="141" y="359.6" width="6.4" height="6.4" fill="#f00"/>
<path d="M131.3,382.6 H157" stroke="#f00" stroke-width="1.7"/>
<path d="M239.3,362.9 H265" stroke="#000" stroke-width="1.6" stroke-dasharray="3.5,2.4"/>
<circle cx="252.2" cy="362.9" r="4.1"/>
<path d="M239.3,382.6 H265" stroke="#000" stroke-width="1.6"/>
<text transform="translate(1.6,13.7) scale(1,1.0)" text-anchor="start" font-size="17" >(a)</text>
<text transform="translate(1.2,222.1) scale(1,1.0)" text-anchor="start" font-size="16.5" font-family="Liberation Sans" style="font-family:'Liberation Sans',sans-serif">(b)</text>
<text transform="translate(44,28.6) scale(1,1.07)" text-anchor="end" font-size="13.5" >15</text>
<text transform="translate(44,73.6) scale(1,1.07)" text-anchor="end" font-size="13.5" >10</text>
<text transform="translate(44,118.6) scale(1,1.07)" text-anchor="end" font-size="13.5" >5</text>
<text transform="translate(44,163.4) scale(1,1.07)" text-anchor="end" font-size="13.5" >0</text>
<text transform="translate(55.5,179.8) scale(1,1.07)" text-anchor="middle" font-size="13.5" >0</text>
<text transform="translate(111.6,179.8) scale(1,1.07)" text-anchor="middle" font-size="13.5" >1</text>
<text transform="translate(167.7,179.8) scale(1,1.07)" text-anchor="middle" font-size="13.5" >2</text>
<text transform="translate(223.8,179.8) scale(1,1.07)" text-anchor="middle" font-size="13.5" >3</text>
<text transform="translate(279.9,179.8) scale(1,1.07)" text-anchor="middle" font-size="13.5" >4</text>
<text transform="translate(336.0,179.8) scale(1,1.07)" text-anchor="middle" font-size="13.5" >5</text>
<text transform="translate(195.8,197.5) scale(1,1.07)" text-anchor="middle" font-size="13.5" >Electric field strength (kV/mm)</text>
<text transform="translate(43.5,242.8) scale(1,1.07)" text-anchor="end" font-size="13.5" >15</text>
<text transform="translate(43.5,292.8) scale(1,1.07)" text-anchor="end" font-size="13.5" >10</text>
<text transform="translate(43.5,343.6) scale(1,1.07)" text-anchor="end" font-size="13.5" >5</text>
<text transform="translate(43.5,395.4) scale(1,1.07)" text-anchor="end" font-size="13.5" >0</text>
<text transform="translate(55,411) scale(1,1.07)" text-anchor="middle" font-size="13.5" >0</text>
<text transform="translate(110.8,411) scale(1,1.07)" text-anchor="middle" font-size="13.5" >1</text>
<text transform="translate(166.6,411) scale(1,1.07)" text-anchor="middle" font-size="13.5" >2</text>
<text transform="translate(222.4,411) scale(1,1.07)" text-anchor="middle" font-size="13.5" >3</text>
<text transform="translate(278.2,411) scale(1,1.07)" text-anchor="middle" font-size="13.5" >4</text>
<text transform="translate(334,411) scale(1,1.07)" text-anchor="middle" font-size="13.5" >5</text>
<text transform="translate(194.5,430) scale(1,1.07)" text-anchor="middle" font-size="13.5" >Time (s)</text>
<text transform="translate(113.4,51.7) scale(1,1.07)" text-anchor="start" font-size="13.5" >1-MA</text>
<text transform="translate(113.3,86.6) scale(1,1.07)" text-anchor="start" font-size="13.5" >2-MA</text>
<text transform="translate(159.7,367.3) scale(1,1.07)" text-anchor="start" font-size="13.5" >1-MA Exp</text>
<text transform="translate(159.7,387) scale(1,1.07)" text-anchor="start" font-size="13.5" >1-MA Sim</text>
<text transform="translate(267.3,367.3) scale(1,1.07)" text-anchor="start" font-size="13.5" >2-MA Exp</text>
<text transform="translate(267.3,387) scale(1,1.07)" text-anchor="start" font-size="13.5" >2-MA Sim</text>
<text transform="translate(24.6,168.2) rotate(-90) scale(1,1.07)" font-size="13.5">Bending angle</text>
<text transform="translate(24.6,84) rotate(-90) scale(1,1.07)" font-size="16" font-style="italic">α</text>
<text transform="translate(24.6,73.6) rotate(-90) scale(1,1.07)" font-size="13">(degree)</text>
<text transform="translate(23.6,383.4) rotate(-90) scale(1,1.07)" font-size="13.5">Bending angle</text>
<text transform="translate(23.6,299.2) rotate(-90) scale(1,1.07)" font-size="16" font-style="italic">α</text>
<text transform="translate(23.6,288.8) rotate(-90) scale(1,1.07)" font-size="13">(degree)</text>
</svg>
</body></html>
